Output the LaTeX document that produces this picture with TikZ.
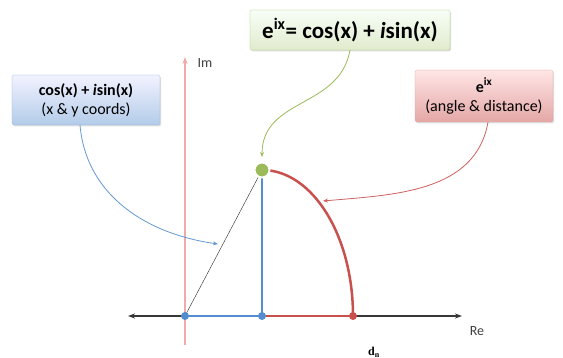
\documentclass[tikz,border=0pt]{standalone}
\usepackage{fontspec}
\setmainfont{Carlito}
\newfontfamily\serifnote{Liberation Serif}
\usepackage{xcolor}
\usetikzlibrary{arrows.meta, shadows}

\definecolor{eqgreen}{RGB}{155,187,89}
\definecolor{ptblue}{RGB}{84,141,205}
\definecolor{ptred}{RGB}{200,80,77}
\definecolor{impink}{RGB}{240,170,170}
\definecolor{axisgray}{RGB}{55,55,55}

\begin{document}
\begin{tikzpicture}[
  x=1pt, y=1pt,
  note/.style={rectangle, rounded corners=1.5pt, very thin, align=center,
               inner sep=3pt,
               drop shadow={opacity=0.25, shadow xshift=1pt, shadow yshift=-1.5pt}},
  eqnote/.style={note, draw=eqgreen!90, top color=green!3, bottom color=eqgreen!30,
                 minimum width=200pt, minimum height=40pt, font=\fontsize{23}{25}\selectfont\bfseries},
  xynote/.style={note, draw=ptblue!70, top color=blue!5, bottom color=ptblue!45,
                 minimum width=148pt, minimum height=50pt, font=\fontsize{16}{19}\selectfont},
  polnote/.style={note, draw=ptred!55, top color=red!10, bottom color=ptred!50,
                  minimum width=138pt, minimum height=52pt, font=\fontsize{16}{19}\selectfont},
  dot/.style={circle, inner sep=0pt, minimum size=8pt},
  callout/.style={-{Stealth[length=5pt, width=4pt]}, thick},
  axis/.style={{Stealth[length=7pt, width=5pt]}-{Stealth[length=7pt, width=5pt]}, line width=1.5pt, axisgray},
  lbl/.style={font=\fontsize{14}{16}\selectfont, text=black!75}
]
\useasboundingbox (0,0) rectangle (563,358);

% ---- Axes ----
\coordinate (imlo) at (185,13);
\coordinate (imhi) at (185,301);
\coordinate (relo) at (128,42);
\coordinate (rehi) at (462,42);
\draw[-{Stealth[length=7pt, width=5pt]}, line width=1.5pt, impink] (imlo) -- (imhi);
\draw[axis] (relo) -- (rehi);
\node[lbl] (im) at (205,295) {Im};
\node[lbl] (re) at (477,27) {Re};

% ---- Points ----
\coordinate (O) at (185,42);
\coordinate (P) at (262,42);
\coordinate (Q) at (353,42);
\coordinate (Z) at (262,188);

\draw[thin, black!85] (O) -- (Z);
\draw[line width=2.5pt, ptred] (P) -- (Q);
\draw[line width=2.5pt, ptred] (Q) arc[start angle=0, end angle=90, x radius=91, y radius=146];
\draw[line width=2.5pt, ptblue] (O) -- (P) -- (Z);

\node[dot, fill=ptblue] (o) at (O) {};
\node[dot, fill=ptblue] (p) at (P) {};
\node[dot, fill=ptred] (q) at (Q) {};
\node[dot, fill=eqgreen, draw=white, line width=2pt, minimum size=15pt] (z) at (Z) {};

% ---- Callout boxes ----
\node[eqnote] (eq) at (350,328) {e\textsuperscript{ix}= cos(x) + \textit{i}sin(x)};
\node[xynote] (xy) at (86,258) {\textbf{cos(x) + \textit{i}sin(x)}\\(x \& y coords)};
\node[polnote] (pol) at (484,262) {\textbf{e\textsuperscript{ix}}\\(angle \& distance)};

\coordinate (eqend) at (262,201);
\coordinate (xyend) at (218,114);
\coordinate (polend) at (323,157);
\draw[callout, eqgreen] (eq.south -| 350,0) to[out=-100, in=90, looseness=1.1] (eqend);
\draw[callout, ptblue!90] (xy.south -| 80,0) to[out=-85, in=172, looseness=1] (xyend);
\draw[callout, ptred!90] (pol.south -| 488,0) to[out=-100, in=5, looseness=1] (polend);

% ---- Stray note ----
\node[font=\serifnote\bfseries\fontsize{12}{13}\selectfont] (dn) at (374,6) {d\textsubscript{n}};

\end{tikzpicture}
\end{document}
